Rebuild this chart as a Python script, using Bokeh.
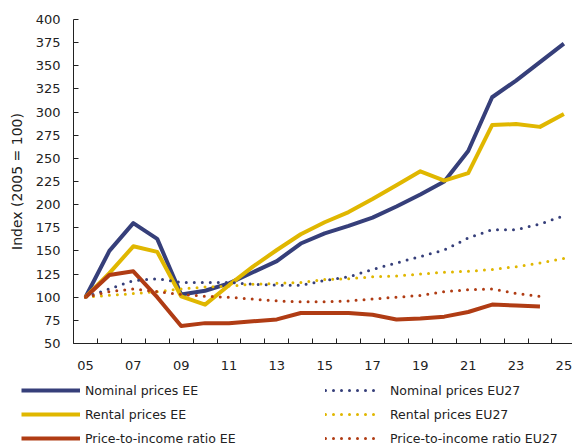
from bokeh.plotting import figure
from bokeh.models import Range1d, FixedTicker, Legend, LegendItem
from bokeh.embed import file_html
from bokeh.resources import INLINE

years = list(range(2005, 2026))
years_short = list(range(2005, 2025))

nominal_ee = [100, 150, 180, 163, 103, 107, 115, 127, 139, 158, 169, 177, 186, 198, 211, 225, 258, 316, 334, 354, 374]
rental_ee = [100, 126, 155, 149, 101, 92, 113, 133, 151, 168, 181, 192, 206, 221, 236, 226, 234, 286, 287, 284, 298]
pti_ee = [100, 124, 128, 100, 69, 72, 72, 74, 76, 83, 83, 83, 81, 76, 77, 79, 84, 92, 91, 90]

nominal_eu = [100, 109, 118, 120, 116, 116, 116, 114, 113, 113, 118, 122, 130, 137, 144, 151, 164, 173, 173, 179, 188]
rental_eu = [100, 102, 104, 106, 109, 111, 112, 114, 115, 116, 119, 120, 122, 123, 125, 127, 128, 130, 133, 137, 142]
pti_eu = [100, 106, 109, 106, 103, 101, 100, 98, 96, 95, 95, 96, 98, 100, 102, 106, 108, 109, 104, 101]

tick_years = list(range(2005, 2026, 2))
tick_labels = {y: f"{y % 100:02d}" for y in tick_years}
y_ticks = list(range(50, 401, 25))

labels_ee = ["Nominal prices EE", "Rental prices EE", "Price-to-income ratio EE"]
labels_eu = ["Nominal prices EU27", "Rental prices EU27", "Price-to-income ratio EU27"]

BLUE = "#363f7a"
YELLOW = "#e0b700"
RED = "#b03c14"
COLORS = [BLUE, YELLOW, RED]
FONT = "DejaVu Sans"
TXT = "#222222"
NAN = float("nan")

p = figure(width=572, height=372, output_backend="svg", toolbar_location=None,
           x_range=Range1d(2004.5, 2025.36), y_range=Range1d(50, 400),
           min_border_left=73, min_border_top=19, min_border_bottom=28, min_border_right=0)
p.outline_line_color = None
p.xgrid.visible = False
p.ygrid.visible = False

p.line(years, nominal_ee, line_color=BLUE, line_width=4, line_join="round")
p.line(years, rental_ee, line_color=YELLOW, line_width=4, line_join="round")
p.line(years_short, pti_ee, line_color=RED, line_width=4, line_join="round")
p.line(years, nominal_eu, line_color=BLUE, line_width=3, line_dash="0 8", line_cap="round")
p.line(years, rental_eu, line_color=YELLOW, line_width=3, line_dash="0 8", line_cap="round")
p.line(years_short, pti_eu, line_color=RED, line_width=3, line_dash="0 8", line_cap="round")

xa = p.xaxis[0]
xa.ticker = FixedTicker(ticks=tick_years, minor_ticks=[y - 0.5 for y in years])
xa.major_label_overrides = tick_labels
xa.major_tick_line_color = None
xa.minor_tick_in = 5
xa.minor_tick_out = 0
xa.minor_tick_line_color = TXT
xa.axis_line_color = TXT
xa.major_label_standoff = 11
xa.major_label_text_font = FONT
xa.major_label_text_font_size = "13px"
xa.major_label_text_color = TXT

ya = p.yaxis[0]
ya.ticker = FixedTicker(ticks=y_ticks)
ya.major_tick_in = 5
ya.major_tick_out = 0
ya.minor_tick_line_color = None
ya.axis_line_color = TXT
ya.major_tick_line_color = TXT
ya.major_label_standoff = 13
ya.major_label_text_font = FONT
ya.major_label_text_font_size = "13px"
ya.major_label_text_color = TXT
ya.axis_label = "Index (2005 = 100)"
ya.axis_label_text_font = FONT
ya.axis_label_text_font_size = "14px"
ya.axis_label_text_font_style = "normal"
ya.axis_label_text_color = TXT
ya.axis_label_standoff = 8

# legend strip below the chart
lg = figure(width=572, height=74, output_backend="svg", toolbar_location=None,
            x_axis_type=None, y_axis_type=None, min_border=0,
            x_range=Range1d(0, 1), y_range=Range1d(0, 1))
lg.outline_line_color = None
lg.xgrid.visible = False
lg.ygrid.visible = False

items_ee, items_eu = [], []
for lab, c in zip(labels_ee, COLORS):
    r = lg.line([NAN], [NAN], line_color=c, line_width=4)
    items_ee.append(LegendItem(label=lab, renderers=[r]))
for lab, c in zip(labels_eu, COLORS):
    r = lg.line([NAN], [NAN], line_color=c, line_width=3, line_dash="0 8", line_cap="round")
    items_eu.append(LegendItem(label=lab, renderers=[r]))


def make_legend(items, x, y, glyph_w, standoff):
    return Legend(items=items, location=(x, y), orientation="vertical",
                  glyph_width=glyph_w, glyph_height=20, label_height=20, spacing=4,
                  label_standoff=standoff, padding=0, margin=0,
                  border_line_color=None, background_fill_alpha=0,
                  label_text_font=FONT, label_text_font_size="12.5px",
                  label_text_color=TXT)


lg.add_layout(make_legend(items_ee, 21, -2, 59, 5), "center")
lg.add_layout(make_legend(items_eu, 325, -2, 52, 13), "center")

open("out.html", "w").write(file_html([p, lg], INLINE))
